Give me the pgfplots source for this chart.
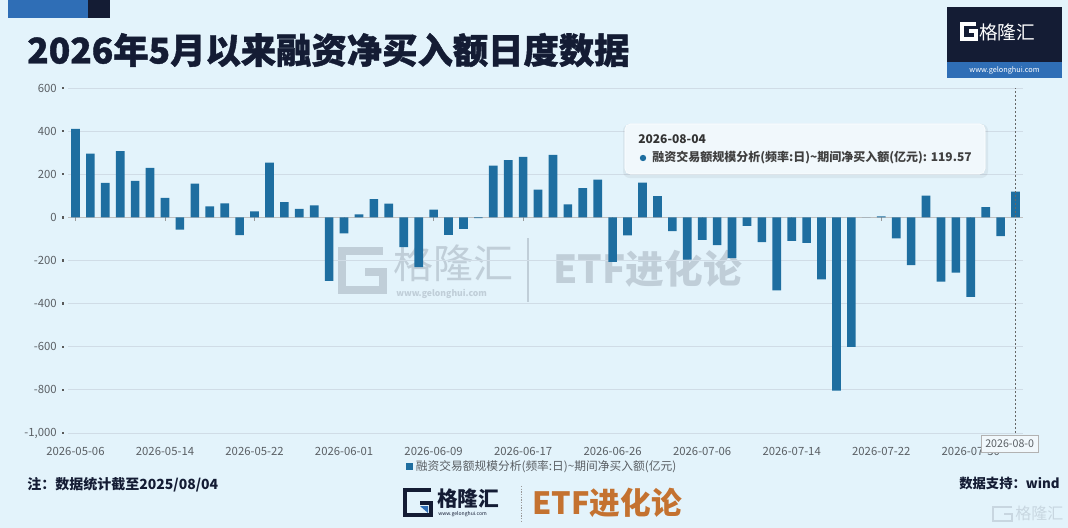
\documentclass[border=0pt]{standalone}
\usepackage{pgfplots}
\pgfplotsset{compat=1.18}
\usepackage{pgfplotstable}
\usepackage{fontspec}
\setmainfont{Noto Sans CJK SC}
\newfontfamily\heavyfont[FakeBold=1.2]{Noto Sans CJK SC}
\definecolor{bg}{RGB}{227,243,251}
\definecolor{barc}{RGB}{30,110,160}
\definecolor{navy}{RGB}{20,28,52}
\definecolor{gridc}{RGB}{208,220,230}
\definecolor{lblc}{RGB}{90,95,100}
\definecolor{logoblue}{RGB}{47,110,182}
\definecolor{orangeb}{RGB}{196,114,48}
\definecolor{wm}{RGB}{150,162,175}
\definecolor{tipc}{RGB}{241,248,252}
\newcommand{\fs}[1]{\fontsize{#1}{#1}\selectfont}

\pgfplotstableread{
idx val
0 410
1 296
2 160
3 307
4 169
5 229
6 91
7 -57
8 157
9 51
10 65
11 -82
12 28
13 254
14 71
15 40
16 56
17 -295
18 -74
19 14
20 85
21 64
22 -138
23 -231
24 36
25 -81
26 -53
27 -3
28 240
29 265
30 281
31 129
32 290
33 60
34 136
35 175
36 -206
37 -84
38 161
39 98
40 -64
41 -196
42 -104
43 -129
44 -189
45 -39
46 -115
47 -338
48 -109
49 -118
50 -287
51 -803
52 -600
53 0
54 5
55 -97
56 -222
57 101
58 -298
59 -256
60 -369
61 47
62 -87
63 119.57
}\netbuy

\begin{document}
\begin{tikzpicture}
\useasboundingbox (0,0) rectangle (801pt,-396pt);
\begin{scope}[x=0.75pt,y=-0.75pt]
\fill[bg] (0,0) rectangle (1068,528);
% top-left bars
\fill[logoblue] (8,0) rectangle (88,18);
\fill[navy] (88,0) rectangle (110,18);
% title
\node[anchor=west, text=navy, font=\fs{26.5}\heavyfont\bfseries, inner sep=0] at (27,50) {2026年5月以来融资净买入额日度数据};
% top-right logo
\fill[navy] (947,7) rectangle (1062,62);
\fill[logoblue] (947,62) rectangle (1062,78);
\node[text=white, font=\fs{5.5}, inner sep=0] at (1004.5,70) {www.gelonghui.com};
\draw[white, line width=3pt] (976,24) -- (962,24) -- (962,39) -- (976,39) -- (976,31) -- (969,31);
\node[anchor=west,text=white,font=\fs{14},inner sep=0] at (979,32) {格隆汇};
% watermark
\begin{scope}[opacity=0.45]
\draw[wm, line width=6.5pt] (383,251) -- (342,251) -- (342,290) -- (383,290) -- (383,272) -- (365,272);
\node[anchor=west,text=wm,font=\fs{30},inner sep=0] at (393,263) {格隆汇};
\node[anchor=west,text=wm,font=\fs{6.5}\bfseries,inner sep=0] at (396,294) {www.gelonghui.com};
\draw[wm, line width=1pt] (528,238) -- (528,302);
\node[anchor=west,text=wm,font=\fs{29}\bfseries,inner sep=0] at (553,269) {ETF进化论};
\end{scope}
\end{scope}

\begin{axis}[
  at={(51pt,-324.75pt)}, anchor=south west,
  width=716.25pt, height=258.75pt, scale only axis,
  xmin=-0.5, xmax=63.5, ymin=-1000, ymax=600,
  ytick={-1000,-800,...,600},
  xtick={0,6,...,60},
  xticklabels={2026-05-06,2026-05-14,2026-05-22,2026-06-01,2026-06-09,2026-06-17,2026-06-26,2026-07-06,2026-07-14,2026-07-22,2026-07-30},
  axis line style={draw=none},
  tick style={draw=none},
  ymajorgrids, grid style={gridc, line width=0.6pt},
  /pgf/number format/assume math mode=true,
  /pgf/number format/1000 sep={,},
  yticklabel style={font=\fs{8.5}, text=lblc, inner sep=0pt, anchor=east, xshift=-8.25pt},
  xticklabel style={font=\fs{8.5}, text=lblc, inner sep=0pt, anchor=north, yshift=-6pt},
  legend style={at={(0.497,-0.096)}, anchor=center, draw=none, fill=none, font=\fs{8.8}, text=lblc, inner sep=0pt},
  ybar, bar width=6.5pt,
  clip=false,
]
\draw[black!25, line width=0.7pt] (axis cs:-0.5,0) -- (axis cs:63.5,0);
\pgfplotsinvokeforeach{0,6,...,60}{\draw[black!40, line width=0.6pt] (axis cs:#1,0) -- ++(0pt,-3pt);}
\pgfplotsinvokeforeach{-1000,-800,...,600}{\fill[black!65] ([xshift=-3.6pt]axis cs:-0.5,#1) ++(-0.9pt,-0.9pt) rectangle ++(1.8pt,1.8pt);}
\addplot[fill=barc, draw=none, legend image code/.code={\fill[barc] (0pt,-2.6pt) rectangle (5.2pt,2.6pt);}] table[x=idx,y=val]{\netbuy};
\addlegendentry{融资交易额规模分析(频率:日)\textasciitilde 期间净买入额(亿元)}
\draw[black!60, dash pattern=on 1.5pt off 1.5pt, line width=0.6pt] (axis cs:63,-1000) -- (axis cs:63,600);
\end{axis}

\begin{scope}[x=0.75pt,y=-0.75pt]
% pointer label
\draw[black!30, fill=tipc, line width=0.5pt] (981,435) rectangle (1038,452);
\node[anchor=west, font=\fs{8}, text=lblc, inner sep=0] at (985,443.5) {2026-08-0};
% tooltip
\fill[black, opacity=0.05, rounded corners=5pt] (623,124) rectangle (988,178);
\draw[fill=tipc, draw=white, rounded corners=4pt] (625,124) rectangle (985,174);
\node[anchor=west, font=\fs{9}\bfseries, text=black!80, inner sep=0] at (638,139) {2026-08-04};
\fill[barc] (643,158) circle[radius=2.4pt];
\node[anchor=west, font=\fs{9}\bfseries, text=black!75, inner sep=0] at (652,158) {融资交易额规模分析(频率:日)\textasciitilde 期间净买入额(亿元): 119.57};
% footer
\node[anchor=west, font=\fs{10.5}\bfseries, text=navy, inner sep=0] at (27,485) {注：数据统计截至2025/08/04};
\node[anchor=east, font=\fs{10}\bfseries, text=navy, inner sep=0] at (1060,483) {数据支持：wind};
% bottom logo
\draw[navy, line width=3.4pt] (431,490) -- (405,490) -- (405,515) -- (431,515) -- (431,503) -- (420,503);
\fill[logoblue] (420,506) -- (428,506) -- (428,513) -- cycle;
\node[anchor=west,text=navy,font=\fs{15.5}\bfseries,inner sep=0] at (437,499) {格隆汇};
\node[anchor=west,text=navy,font=\fs{3.8},inner sep=0] at (438,514) {www.gelonghui.com};
\draw[black!40, dash pattern=on 1pt off 1pt, line width=0.5pt] (521,486) -- (521,521);
\node[anchor=west,text=orangeb,font=\fs{23}\bfseries,inner sep=0] at (532,503) {ETF进化论};
% bottom-right faint logo
\begin{scope}[opacity=0.35]
\draw[wm, line width=1.8pt] (1012,507) -- (993,507) -- (993,521) -- (1012,521) -- (1012,514) -- (1004,514);
\node[anchor=west,text=wm,font=\fs{12},inner sep=0] at (1015,513) {格隆汇};
\end{scope}
\end{scope}
\end{tikzpicture}
\end{document}
